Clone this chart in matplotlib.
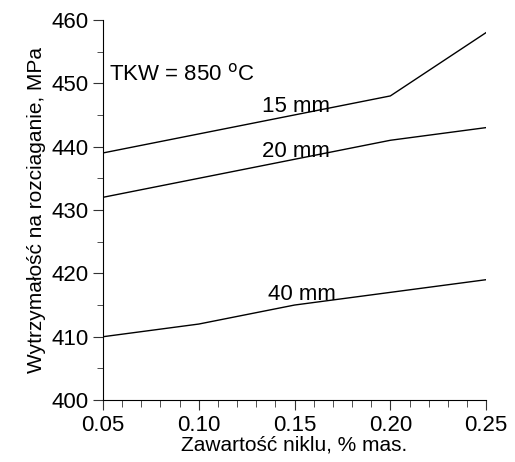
import matplotlib
matplotlib.use("Agg")
import matplotlib.pyplot as plt
from matplotlib.ticker import MultipleLocator

plt.rcParams["font.family"] = ["Liberation Sans", "DejaVu Sans"]

nickel = [0.05, 0.10, 0.15, 0.20, 0.25]
r_15mm = [439, 442, 445, 448, 458]
r_20mm = [432, 435, 438, 441, 443]
r_40mm = [410, 412, 415, 417, 419]

fig = plt.figure(figsize=(5.15, 4.62), dpi=100)
ax = fig.add_axes([0.2, 0.134, 0.744, 0.823])

for series in (r_15mm, r_20mm, r_40mm):
    ax.plot(nickel, series, color="black", linewidth=1.0)

ax.text(0.133, 445.4, "15 mm", fontsize=16)
ax.text(0.133, 438.4, "20 mm", fontsize=16)
ax.text(0.136, 415.8, "40 mm", fontsize=16)
ax.text(0.053, 450.5, "TKW = 850 $^{\\mathrm{o}}$C", fontsize=16)

ax.set_xlim(0.05, 0.25)
ax.set_ylim(400, 460)
ax.xaxis.set_major_locator(MultipleLocator(0.05))
ax.xaxis.set_minor_locator(MultipleLocator(0.01))
ax.yaxis.set_major_locator(MultipleLocator(10))
ax.yaxis.set_minor_locator(MultipleLocator(5))
ax.xaxis.set_major_formatter(plt.FuncFormatter(lambda v, p: f"{v:.2f}"))

ax.spines["top"].set_visible(False)
ax.spines["right"].set_visible(False)
ax.tick_params(which="major", length=7, labelsize=16, color="#333333")
ax.tick_params(which="minor", length=4, color="#333333")
ax.tick_params(axis="x", which="minor", length=5)

ax.set_xlabel("Zawartość niklu, % mas.", fontsize=15, labelpad=0)
ax.set_ylabel("Wytrzymałość na rozciaganie, MPa", fontsize=15, labelpad=4)

fig.savefig("out.png", dpi=100)
